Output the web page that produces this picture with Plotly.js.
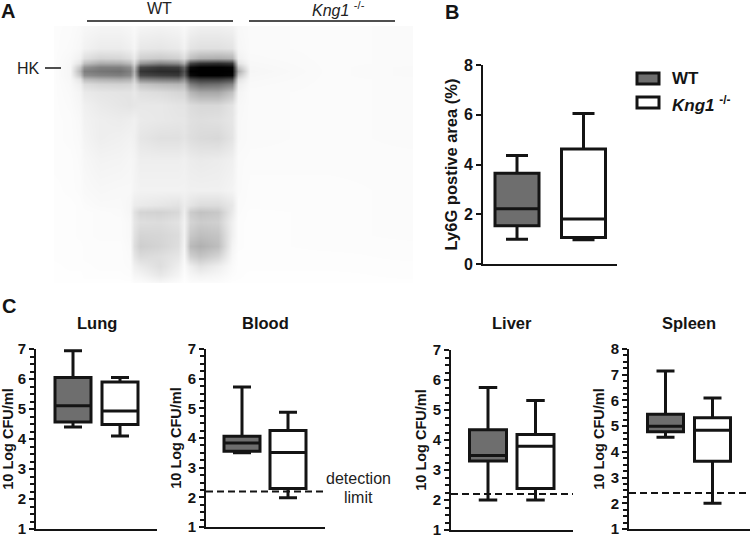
<!DOCTYPE html>
<html>
<head>
<meta charset="utf-8">
<script src="https://cdn.plot.ly/plotly-3.0.1.min.js"></script>
<style>
  html, body { margin: 0; padding: 0; background: #fff; }
  #chart { width: 750px; height: 536px; }
</style>
</head>
<body>
<div id="chart"></div>
<script>
// box values: [lower whisker, q1, median, q3, upper whisker]
const ly6gWT = [0.99, 1.54, 2.22, 3.65, 4.36];
const ly6gKO = [0.97, 1.07, 1.81, 4.62, 6.05];
const lungWT = [4.40, 4.57, 5.11, 6.05, 6.94];
const lungKO = [4.10, 4.48, 4.93, 5.90, 6.05];
const bloodWT = [3.50, 3.55, 3.83, 4.06, 5.72];
const bloodKO = [1.99, 2.30, 3.51, 4.25, 4.87];
const liverWT = [2.00, 3.30, 3.48, 4.34, 5.75];
const liverKO = [2.00, 2.38, 3.79, 4.18, 5.32];
const spleenWT = [4.57, 4.78, 5.00, 5.46, 7.14];
const spleenKO = [2.00, 3.63, 4.84, 5.33, 6.09];

const groupNames = ['WT', '<i>Kng1</i> <sup>-/-</sup>'];
const organs = ['Lung', 'Blood', 'Liver', 'Spleen'];
const detectionLimits = [null, 2.2, 2.2, 2.4];
const ticksTo7 = [1, 2, 3, 4, 5, 6, 7];
const ticksTo8 = [1, 2, 3, 4, 5, 6, 7, 8];
const ly6gTicks = [0, 2, 4, 6, 8];

// blot read by eye as grey levels (255 = white), px position on the picture
const blotX = [54, 70, 80, 84, 100, 120, 130, 134, 140, 160, 178, 184, 190, 200, 218, 232, 238, 250, 330, 413];
const blotY = [26, 48, 58, 63, 67, 71, 75, 79, 84, 92, 105, 120, 138, 160, 190, 205, 212, 222, 235, 246, 256, 266, 275, 283];
const blotGrey = [
  [252,251,249,247,245,245,247,249,245,243,245,248,243,240,240,242,248,250,251,250],
  [252,250,247,242,236,236,240,245,232,230,234,242,228,224,224,228,246,250,251,250],
  [252,248,240,224,212,214,222,234,207,202,208,222,192,177,174,180,240,249,251,250],
  [252,247,227,192,172,174,187,217,152,132,142,172,72,52,47,57,227,248,251,250],
  [252,246,197,147,127,127,142,192,72,57,62,102,10,0,0,5,197,247,251,249],
  [252,246,182,127,117,112,127,177,52,42,42,82,0,0,0,0,172,246,251,249],
  [252,246,197,142,132,127,137,187,72,62,57,97,10,0,0,5,197,247,251,249],
  [252,247,227,187,177,172,177,207,132,122,117,142,72,57,57,72,224,248,251,250],
  [252,248,238,220,212,210,212,224,197,187,182,187,127,107,112,132,237,249,251,250],
  [252,249,244,234,230,228,228,232,224,220,214,214,182,167,167,192,244,250,251,250],
  [252,250,246,240,234,230,228,230,232,232,228,228,220,216,216,228,247,250,251,250],
  [252,251,248,242,238,236,238,240,234,232,230,230,224,222,224,230,248,250,251,250],
  [252,251,249,244,238,240,242,240,230,224,224,228,222,218,216,228,248,250,251,250],
  [252,252,250,247,243,244,246,244,238,238,238,240,236,234,236,240,250,251,251,251],
  [253,252,251,249,247,248,248,244,242,242,242,242,240,240,240,244,250,252,252,251],
  [253,253,252,251,249,249,246,236,234,230,226,236,228,220,220,232,251,252,252,251],
  [253,253,252,252,251,250,246,226,212,210,216,238,204,194,200,234,251,253,252,251],
  [253,253,252,252,251,251,248,230,222,220,226,242,212,204,208,240,252,253,252,251],
  [253,253,252,252,251,251,248,226,212,214,220,242,200,190,196,240,252,253,252,251],
  [253,253,253,252,252,252,249,222,206,212,222,244,186,176,190,244,252,253,252,252],
  [253,253,253,252,252,252,250,230,218,222,230,247,208,196,212,247,253,253,253,252],
  [254,253,253,253,252,252,251,240,234,222,238,250,238,226,238,250,253,253,253,253],
  [254,254,254,253,253,253,252,246,244,232,244,252,246,242,246,252,253,254,254,253],
  [254,254,254,254,254,254,254,252,252,248,252,254,252,252,252,254,254,254,254,254]
];

const W = 750, H = 536;
const ink = '#141414';
const fontFamily = '"Liberation Sans", Arial, sans-serif';
const boldFont = (size) => ({ family: fontFamily, size: size, color: ink, weight: 700 });
const plainFont = (size) => ({ family: fontFamily, size: size, color: '#222' });
const px = (v) => v / W;
const py = (v) => 1 - v / H;

// pixel frames: left/right of the x axis, top/bottom of the y axis, box centres and box width
const frames = [
  { left: 483, right: 617, top: 65, bottom: 264, c1: 517, c2: 583.5, bw: 44, range: [0, 8], ticks: ly6gTicks, minor: false, title: 'Ly6G postive area (%)', titleSize: 16.5, tickSize: 16, standoff: 2 },
  { left: 36, right: 157, top: 349, bottom: 529, c1: 73, c2: 120, bw: 36, range: [1, 7], ticks: ticksTo7, minor: true, title: '10 Log CFU/ml', titleSize: 14.5, tickSize: 15, standoff: 3 },
  { left: 206, right: 325, top: 349, bottom: 527, c1: 242, c2: 288, bw: 36, range: [1, 7], ticks: ticksTo7, minor: true, title: '10 Log CFU/ml', titleSize: 14.5, tickSize: 15, standoff: 3 },
  { left: 451, right: 573, top: 350, bottom: 530, c1: 488, c2: 535.5, bw: 37, range: [1, 7], ticks: ticksTo7, minor: true, title: '10 Log CFU/ml', titleSize: 14.5, tickSize: 15, standoff: 3 },
  { left: 629, right: 750, top: 349, bottom: 529, c1: 665.5, c2: 712.5, bw: 36, range: [1, 8], ticks: ticksTo8, minor: true, title: '10 Log CFU/ml', titleSize: 14.5, tickSize: 15, standoff: 3 }
];
const boxValues = [
  [ly6gWT, ly6gKO],
  [lungWT, lungKO],
  [bloodWT, bloodKO],
  [liverWT, liverKO],
  [spleenWT, spleenKO]
];

const data = [{
  type: 'heatmap',
  x: blotX,
  y: blotY,
  z: blotGrey,
  zmin: 0,
  zmax: 255,
  zsmooth: 'best',
  colorscale: [[0, '#000000'], [1, '#ffffff']],
  showscale: false,
  hoverinfo: 'skip',
  xaxis: 'x',
  yaxis: 'y'
}];

function pageLine(x0, x1, y, width) {
  return { type: 'line', xref: 'paper', yref: 'paper', x0: px(x0), x1: px(x1), y0: py(y), y1: py(y), line: { color: ink, width: width } };
}
function legendBox(y0, y1, fill) {
  return { type: 'rect', xref: 'paper', yref: 'paper', x0: px(637), x1: px(659), y0: py(y1), y1: py(y0), fillcolor: fill, line: { color: ink, width: 3 } };
}

const layout = {
  width: W,
  height: H,
  margin: { l: 0, r: 0, t: 0, b: 0 },
  paper_bgcolor: '#fff',
  plot_bgcolor: 'rgba(0,0,0,0)',
  xaxis: { domain: [px(54), px(413)], range: [54, 413], visible: false, anchor: 'y' },
  yaxis: { domain: [py(283), py(26)], range: [283, 26], visible: false, anchor: 'x' },
  showlegend: false,
  shapes: [
    pageLine(87, 233, 21, 1.5),
    pageLine(249, 395, 21, 1.5),
    pageLine(45, 61, 68, 1.5),
    legendBox(73, 84, '#6e6e6e'),
    legendBox(97, 108, '#ffffff')
  ],
  annotations: []
};

frames.forEach((f, i) => {
  const n = i + 2;
  const xa = 'x' + n, ya = 'y' + n;
  const unit = f.c2 - f.c1;
  layout['xaxis' + n] = {
    domain: [px(f.left), px(f.right)],
    range: [1 - (f.c1 - f.left) / unit, 2 + (f.right - f.c2) / unit],
    anchor: ya,
    showline: true, linewidth: 2, linecolor: ink,
    ticks: '', showticklabels: false, showgrid: false, zeroline: false
  };
  layout['yaxis' + n] = {
    domain: [py(f.bottom), py(f.top)],
    range: f.range,
    anchor: xa,
    showline: true, linewidth: 2, linecolor: ink,
    ticks: 'outside', ticklen: 5, tickwidth: 2, tickcolor: ink,
    tickmode: 'array', tickvals: f.ticks,
    tickfont: boldFont(f.tickSize),
    ticklabeloverflow: 'allow', // the "1" sits at the page edge and gets hidden otherwise
    showgrid: false, zeroline: false,
    title: { text: f.title, font: boldFont(f.titleSize), standoff: f.standoff }
  };
  if (f.minor) {
    layout['yaxis' + n].minor = { tickmode: 'linear', tick0: 0, dtick: 0.25, ticks: 'outside', ticklen: 4, tickwidth: 2, tickcolor: ink, showgrid: false };
  }

  boxValues[i].forEach((v, g) => {
    data.push({
      type: 'box',
      x: [g + 1],
      lowerfence: [v[0]],
      q1: [v[1]],
      median: [v[2]],
      q3: [v[3]],
      upperfence: [v[4]],
      width: f.bw / unit,
      whiskerwidth: 0.5,
      boxpoints: false,
      name: groupNames[g],
      fillcolor: g === 0 ? '#6e6e6e' : '#ffffff',
      line: { color: ink, width: 3 },
      hoverinfo: 'skip',
      xaxis: xa,
      yaxis: ya
    });
  });

  const limit = detectionLimits[i - 1];
  if (limit) {
    data.push({
      type: 'scatter',
      mode: 'lines',
      x: layout['xaxis' + n].range,
      y: [limit, limit],
      line: { color: ink, width: 2, dash: '7px,4px' },
      hoverinfo: 'skip',
      xaxis: xa,
      yaxis: ya
    });
  }
});

function note(text, x, y, font, anchor) {
  layout.annotations.push({
    text: text, x: px(x), y: py(y), xref: 'paper', yref: 'paper',
    xanchor: anchor || 'center', yanchor: 'middle', showarrow: false, font: font
  });
}

note('A', 8, 11, boldFont(20));
note('B', 452, 12, boldFont(20));
note('C', 9, 306, boldFont(20));
note('WT', 159, 9, plainFont(16));
note('<i>Kng1</i> <sup>-/-</sup>', 338, 9, plainFont(16));
note('HK', 28, 68, plainFont(16));
note(organs[0], 97, 323, boldFont(16.5));
note(organs[1], 265, 323, boldFont(16.5));
note(organs[2], 512, 323, boldFont(16.5));
note(organs[3], 689, 323, boldFont(16.5));
note('detection', 358, 478, plainFont(16));
note('limit', 358, 497, plainFont(16));
note(groupNames[0], 670, 78, boldFont(17), 'left');
note(groupNames[1], 670, 104, boldFont(17), 'left');

Plotly.newPlot('chart', data, layout, { staticPlot: true });
</script>
</body>
</html>
